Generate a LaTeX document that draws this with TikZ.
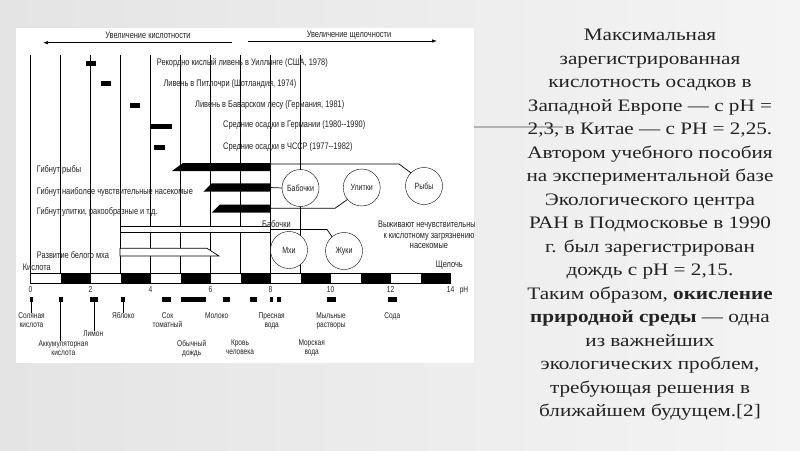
\documentclass[tikz,border=0pt]{standalone}
\usepackage{fontspec}
\setmainfont{Liberation Serif}[FakeStretch=1.21]
\newfontfamily\diagfont{Liberation Sans}[FakeStretch=0.78]
\usetikzlibrary{positioning,arrows.meta}
\definecolor{ink}{RGB}{35,35,35}
\definecolor{bgL}{RGB}{228,228,228}
\definecolor{bgR}{RGB}{244,244,244}

\begin{document}
\begin{tikzpicture}[
  x=1pt, y=-1pt,
  >={Latex[length=5pt,width=3.5pt]},
  lbl/.style={anchor=west, inner sep=0pt, text=ink, font=\diagfont\fontsize{9.5}{10.5}\selectfont},
  tick/.style={inner sep=0pt, text=ink, font=\diagfont\fontsize{8.5}{9}\selectfont},
  sub/.style={anchor=north, inner sep=0pt, align=center, text=ink, font=\diagfont\fontsize{8.4}{8.6}\selectfont},
  evmark/.style={fill=black, inner sep=0pt, minimum height=5pt},
  org/.style={draw, circle, fill=white, minimum size=37pt, inner sep=0pt, text=ink, font=\diagfont\fontsize{9}{9.5}\selectfont},
  note/.style={anchor=north, align=center, inner sep=0pt, text=ink, font=\fontsize{17.5}{23.5}\selectfont}
]
\useasboundingbox (0,0) rectangle (800,450);
\shade[left color=bgL, right color=bgR] (0,0) rectangle (800,450);
\fill[white] (16,28) rectangle (474,363);
\draw[gray!60, line width=1.2pt] (474,127) -- (563,127);

\begin{scope}
\clip (16,28) rectangle (474,363);
% pH grid
\foreach \k in {0,...,9}
  \draw[line width=0.7pt] ({30.5+30*\k},55) -- ({30.5+30*\k},273);

% direction arrows
\node[lbl, anchor=center] (acid) at (148,35) {Увеличение кислотности};
\node[lbl, anchor=center] (alk) at (349,35) {Увеличение щелочности};
\coordinate (acidR) at (231.7,42.7);
\coordinate (acidL) at (43,42.7);
\coordinate (alkL) at (248,41);
\coordinate (alkR) at (437,41);
\draw[->, line width=0.7pt] (acidR) -- (acidL);
\draw[->, line width=0.7pt] (alkL) -- (alkR);

% recorded rains
\node[evmark, minimum width=10pt] (e1) at (91,63.3) {};
\node[evmark, minimum width=10pt] (e2) at (105.7,83.8) {};
\node[evmark, minimum width=10pt] (e3) at (135,105) {};
\node[evmark, minimum width=21.7pt] (e4) at (160.8,126.5) {};
\node[evmark, minimum width=11pt] (e5) at (159.5,147.5) {};
\node[lbl] (t1) at (156.7,63.3) {Рекордно кислый ливень в Уиллинге (США, 1978)};
\node[lbl] (t2) at (163.3,84.3) {Ливень в Питлочри (Шотландия, 1974)};
\node[lbl] (t3) at (195,105) {Ливень в Баварском лесу (Германия, 1981)};
\node[lbl] (t4) at (223,125.5) {Средние осадки в Германии (1980--1990)};
\node[lbl] (t5) at (223,146.7) {Средние осадки в ЧССР (1977--1982)};

% death ranges
\fill (183,163) -- (270,163) -- (270,171) -- (172,171) -- cycle;
\fill (211.7,183.3) -- (270,183.3) -- (270,191.7) -- (203.3,191.7) -- cycle;
\fill (220,204.5) -- (270,204.5) -- (270,212.7) -- (211.7,212.7) -- cycle;
\node[lbl] (d1) at (36.7,170) {Гибнут рыбы};
\node[lbl] (d2) at (36.7,191.7) {Гибнут наиболее чувствительные насекомые};
\node[lbl] (d3) at (36.7,211.7) {Гибнут улитки, ракообразные и т.д.};

% survival ranges
\draw[fill=white, line width=0.7pt] (120,226.5) rectangle (270,232.5);
\draw[fill=white, line width=0.7pt] (120,248.3) -- (207,248.3) -- (219,256) -- (120,256) -- cycle;
\node[lbl] (moss) at (36.7,255) {Развитие белого мха};
\node[lbl] (butt) at (262,224.5) {Бабочки};

% organisms
\node[org] (babochki) at (300.5,188) {Бабочки};
\node[org] (ulitki) at (361.7,187.5) {Улитки};
\node[org] (ryby) at (424,186) {Рыбы};
\node[org] (mhi) at (289,250) {Мхи};
\node[org] (zhuki) at (344,251) {Жуки};
\node[lbl, anchor=center, align=center] (survive) at (429,235)
  {Выживают нечувствительные\\к кислотному загрязнению\\насекомые};

\coordinate (k1) at (270,164);
\coordinate (k1b) at (399,164);
\coordinate (k2) at (270,187.5);
\coordinate (k3) at (270,208.3);
\coordinate (k3b) at (335,208.3);
\coordinate (s1) at (270,229.5);
\coordinate (s1b) at (327,229.5);
\draw[line width=0.7pt] (k1) -- (k1b) -- (ryby.135);
\draw[line width=0.7pt] (k2) -- (babochki.west);
\draw[line width=0.7pt] (k3) -- (k3b) -- (ulitki.-140);
\draw[line width=0.7pt] (s1) -- (s1b) -- (zhuki.130);

% pH scale
\draw[line width=0.7pt] (30.5,273) rectangle (450.5,283);
\foreach \k in {1,3,...,13}
  \fill ({30.5+30*\k},273) rectangle ({60.5+30*\k},283);
\node[lbl] (acidlbl) at (22.7,267) {Кислота};
\node[lbl, anchor=east] (alklbl) at (463,265) {Щелочь};
\foreach \p in {0,2,...,14}
  \node[tick] (ph\p) at ({30.5+30*\p},290) {\p};
\node[tick] (phname) at (464,290) {pH};

% substances
\node[evmark, minimum width=3pt] (hcl) at (31.3,299.2) {};
\node[evmark, minimum width=3.7pt] (akk) at (60.8,299.2) {};
\node[evmark, minimum width=8.3pt] (lemon) at (94.2,299.2) {};
\node[evmark, minimum width=4.3pt] (apple) at (122.9,299.2) {};
\node[evmark, minimum width=8.7pt] (tomato) at (166.7,299.2) {};
\node[evmark, minimum width=25.3pt] (rain) at (193.4,299.2) {};
\node[evmark, minimum width=7pt] (milk) at (226.5,299.2) {};
\node[evmark, minimum width=6.7pt] (blood) at (253.3,299.2) {};
\node[evmark, minimum width=3.3pt] (fresh) at (271.7,299.2) {};
\node[evmark, minimum width=4pt] (sea) at (278.7,299.2) {};
\node[evmark, minimum width=9.3pt] (soap) at (331.3,299.2) {};
\node[evmark, minimum width=9pt] (soda) at (392.2,299.2) {};

\node[sub] (hcl-t) at (31.5,312.5) {Соляная\\кислота};
\node[sub] (akk-t) at (63.3,340.5) {Аккумуляторная\\кислота};
\node[sub] (lemon-t) at (93.3,331) {Лимон};
\node[sub] (apple-t) at (123.3,312.5) {Яблоко};
\node[sub] (tomato-t) at (167.5,312.5) {Сок\\томатный};
\node[sub] (rain-t) at (191.7,340) {Обычный\\дождь};
\node[sub] (milk-t) at (216.7,312.5) {Молоко};
\node[sub] (blood-t) at (240,340) {Кровь\\человека};
\node[sub] (fresh-t) at (271.7,313) {Пресная\\вода};
\node[sub] (sea-t) at (311.7,340) {Морская\\вода};
\node[sub] (soap-t) at (331,313) {Мыльные\\растворы};
\node[sub] (soda-t) at (392.3,312.5) {Сода};
\draw[line width=0.7pt] (hcl.south) -- (hcl.south |- hcl-t.north);
\draw[line width=0.7pt] (akk.south) -- (akk.south |- akk-t.north);
\draw[line width=0.7pt] (lemon.south) -- (lemon.south |- lemon-t.north);
\draw[line width=0.7pt] (apple.south) -- (apple.south |- apple-t.north);
\end{scope}

% slide text
\node[note] (body) at (650,29) {%
Максимальная\\
зарегистрированная\\
кислотность осадков в\\
Западной Европе — с pH =\\
2,3, в Китае — с РН = 2,25.\\
Автором учебного пособия\\
на экспериментальной базе\\
Экологического центра\\
РАН в Подмосковье в 1990\\
г. был зарегистрирован\\
дождь с pH = 2,15.\\
Таким образом, \textbf{окисление}\\
\textbf{природной среды} — одна\\
из важнейших\\
экологических проблем,\\
требующая решения в\\
ближайшем будущем.[2]};
\end{tikzpicture}
\end{document}
